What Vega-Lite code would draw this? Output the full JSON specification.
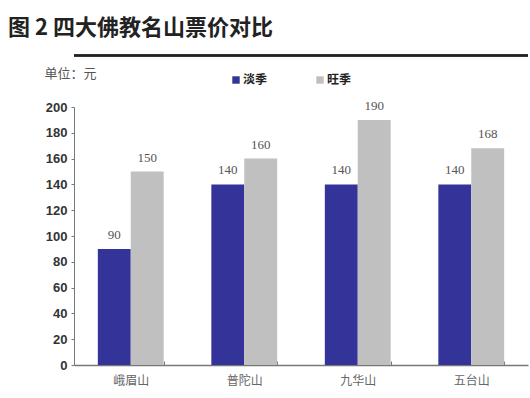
{
  "$schema": "https://vega.github.io/schema/vega-lite/v6.json",
  "width": 454,
  "height": 258,
  "autosize": {"type": "none"},
  "padding": {"left": 74, "top": 107, "right": 2, "bottom": 33},
  "background": "white",
  "title": {
    "text": "图 2  四大佛教名山票价对比",
    "anchor": "start",
    "frame": "group",
    "font": "Noto Sans CJK SC",
    "fontSize": 22,
    "fontWeight": "bold",
    "color": "#222222",
    "dx": -66,
    "offset": 15
  },
  "data": {
    "values": [
      {"mountain": "峨眉山", "season": "淡季", "price": 90},
      {"mountain": "峨眉山", "season": "旺季", "price": 150},
      {"mountain": "普陀山", "season": "淡季", "price": 140},
      {"mountain": "普陀山", "season": "旺季", "price": 160},
      {"mountain": "九华山", "season": "淡季", "price": 140},
      {"mountain": "九华山", "season": "旺季", "price": 190},
      {"mountain": "五台山", "season": "淡季", "price": 140},
      {"mountain": "五台山", "season": "旺季", "price": 168}
    ]
  },
  "config": {
    "view": {"stroke": null}
  },
  "layer": [
    {
      "encoding": {
        "x": {
          "field": "mountain", "type": "nominal", "sort": null,
          "scale": {"paddingInner": 0.42, "paddingOuter": 0.21},
          "axis": {
            "title": null, "labelAngle": 0, "labelFont": "Noto Sans CJK SC",
            "labelFontSize": 12, "labelColor": "#666666", "labelPadding": 14,
            "domainColor": "#777777", "domainWidth": 1.5, "tickColor": "#777777",
            "tickSize": -4, "tickBand": "extent", "grid": false
          }
        },
        "xOffset": {"field": "season", "type": "nominal", "sort": ["淡季", "旺季"], "scale": {"paddingInner": 0, "paddingOuter": 0}},
        "y": {
          "field": "price", "type": "quantitative",
          "scale": {"domain": [0, 200]},
          "axis": {
            "tickCount": 10,
            "labelOverlap": false,
            "grid": false, "tickSize": 3, "tickColor": "#777777", "domainColor": "#777777",
            "labelFont": "Liberation Sans", "labelFontWeight": "bold", "labelFontSize": 13,
            "labelColor": "#333333", "labelPadding": 4,
            "title": "单位：元", "titleAngle": 0, "titleAlign": "left", "titleBaseline": "middle",
            "titleX": -30, "titleY": -34, "titleFont": "Noto Sans CJK SC", "titleFontSize": 13,
            "titleFontWeight": "normal", "titleColor": "#555555"
          }
        }
      },
      "layer": [
        {
          "mark": {"type": "bar"},
          "encoding": {
            "color": {
              "field": "season", "type": "nominal",
              "scale": {"domain": ["淡季", "旺季"], "range": ["#333399", "#C0C0C0"]},
              "legend": {
                "title": null, "orient": "none", "legendX": 156, "legendY": -33,
                "direction": "horizontal", "symbolType": "square", "symbolSize": 55,
                "symbolStrokeWidth": 0, "labelFont": "Noto Sans CJK SC", "labelFontSize": 12,
                "labelFontWeight": "bold", "labelColor": "#222222", "labelOffset": 1,
                "columnPadding": 46
              }
            }
          }
        },
        {
          "mark": {"type": "text", "baseline": "bottom", "dy": -7, "font": "Liberation Serif", "fontSize": 13, "color": "#555555"},
          "encoding": {
            "text": {"field": "price", "type": "quantitative"}
          }
        }
      ]
    },
    {
      "mark": {"type": "rule", "color": "#222222", "strokeWidth": 1.5, "clip": false},
      "encoding": {"y": {"datum": 240}}
    }
  ]
}
